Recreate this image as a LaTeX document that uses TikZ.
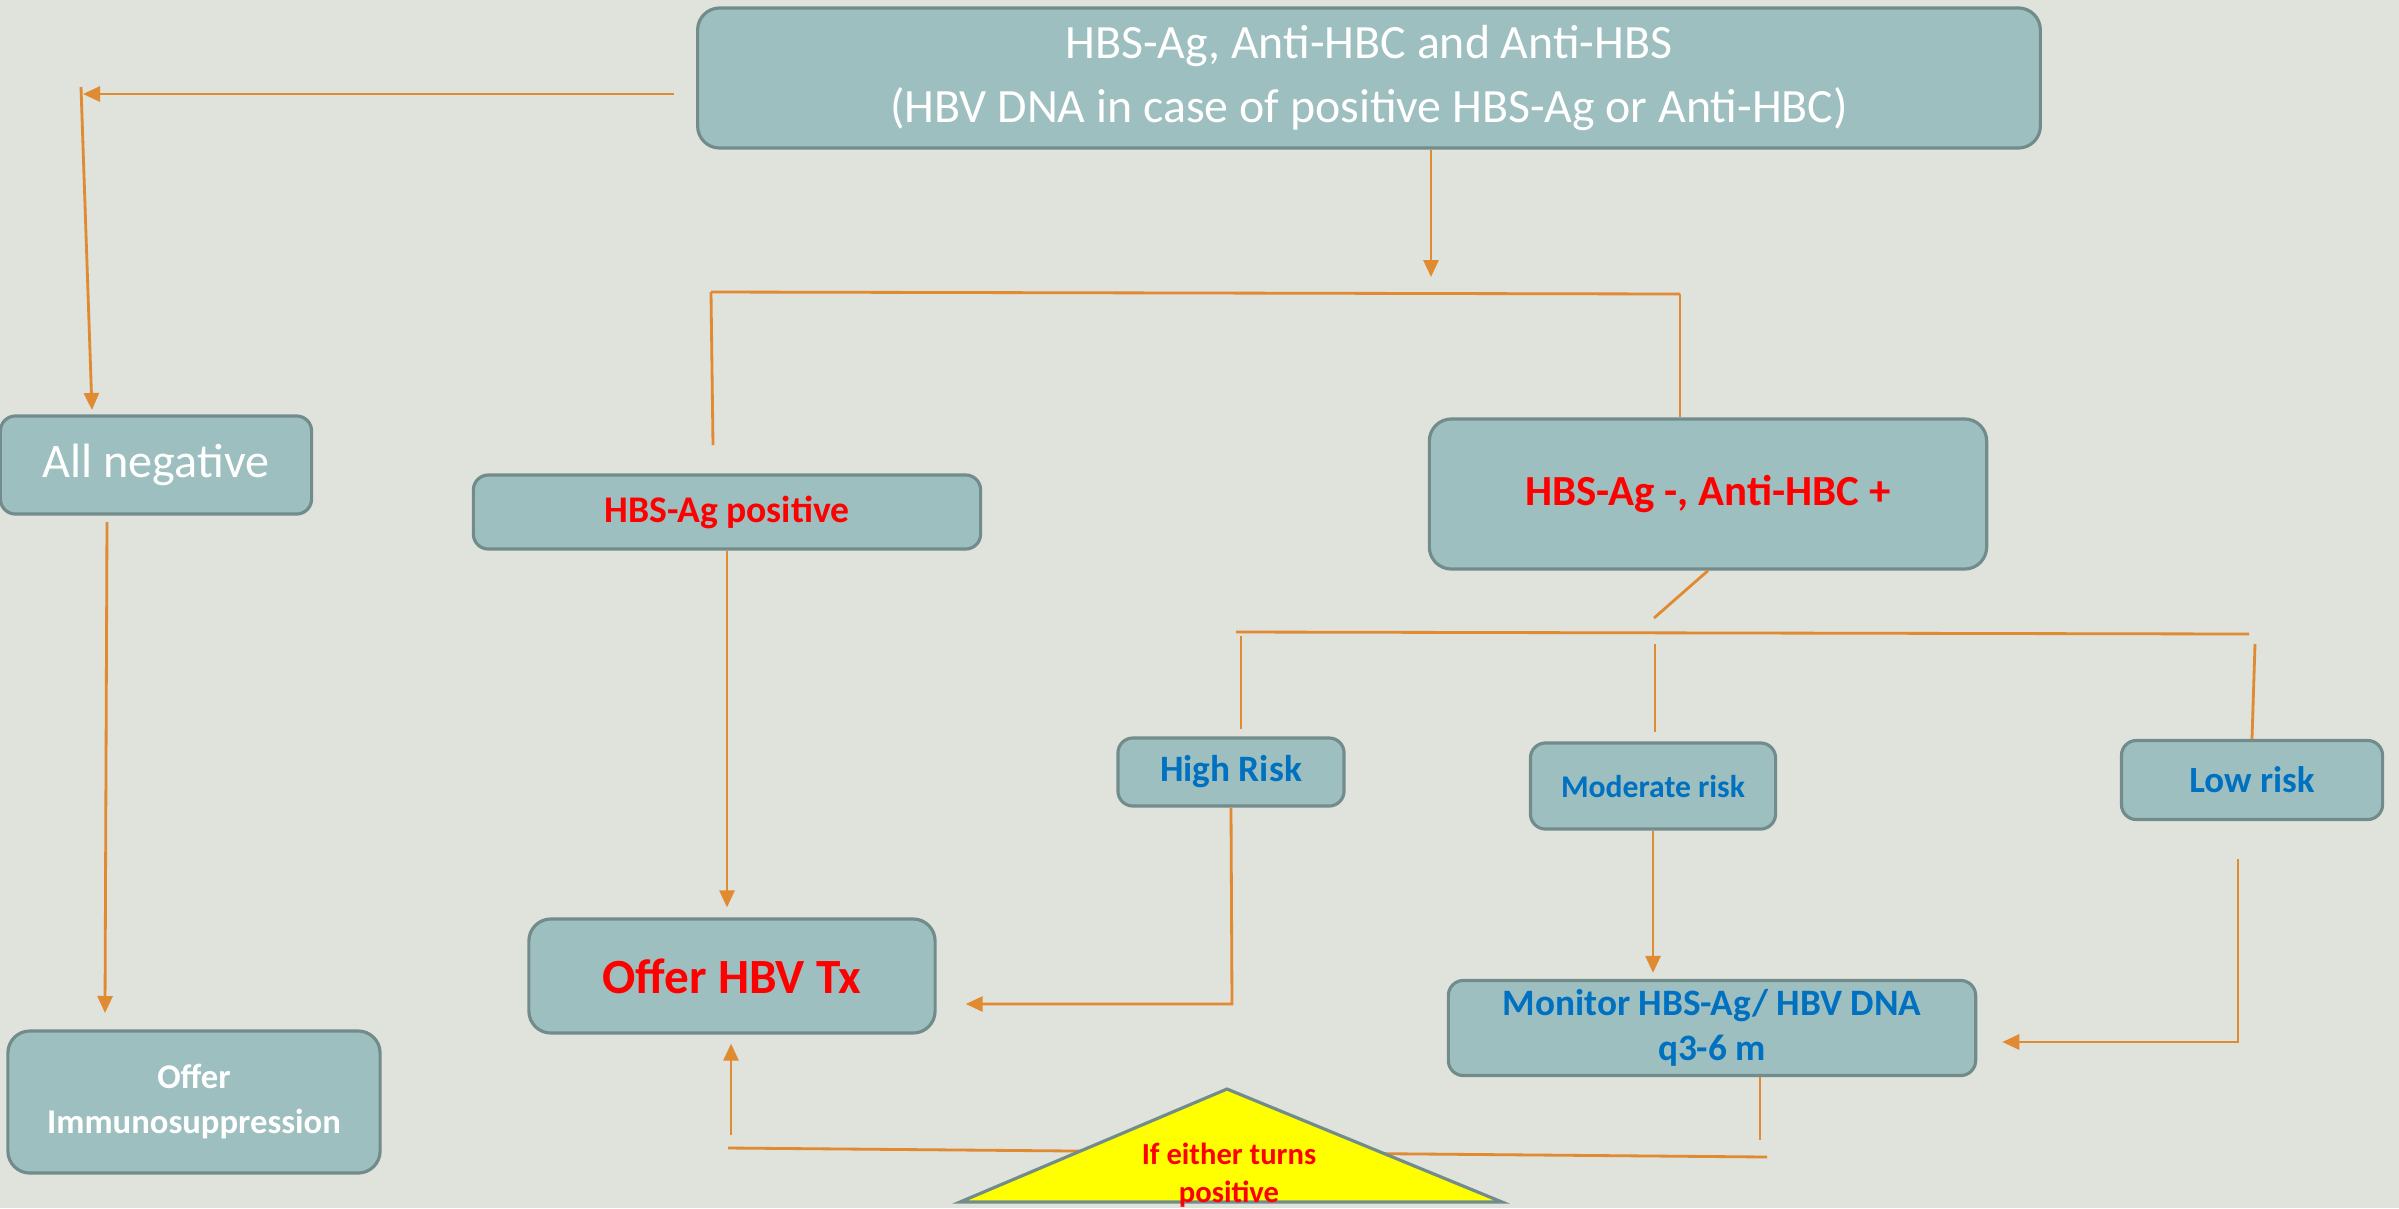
\documentclass[tikz,border=0pt]{standalone}
\usepackage{fontspec}
\setmainfont{Carlito}
\usetikzlibrary{arrows.meta}
\definecolor{bgcol}{HTML}{E0E2DC}
\definecolor{boxfill}{HTML}{9EBFBF}
\definecolor{boxline}{HTML}{728C8C}
\definecolor{linkcol}{HTML}{E08A32}
\definecolor{redtxt}{HTML}{FF0000}
\definecolor{bluetxt}{HTML}{0070C0}
\definecolor{warnfill}{HTML}{FFFF00}
\newcommand{\fsz}[2]{\fontsize{#1}{#2}\selectfont}
\tikzset{
  box/.style={draw=boxline, fill=boxfill, line width=0.9pt, rounded corners=0.15cm, align=center, inner sep=2pt},
  bigbox/.style={box, rounded corners=0.22cm},
  link/.style={draw=linkcol, line width=0.8pt},
  arr/.style={link, -{Triangle[length=0.17cm,width=0.15cm]}}
}

\begin{document}
\begin{tikzpicture}[x=0.01cm,y=-0.01cm]
  \fill [bgcol] (0,0) rectangle (2399,1208);
  \useasboundingbox (0,0) rectangle (2399,1208);

  \node [bigbox, minimum width=13.42cm, minimum height=1.40cm, text=white, font=\fsz{13.6}{18.4}] (tests) at (1369,78) {HBS-Ag, Anti-HBC and Anti-HBS\\(HBV DNA in case of positive HBS-Ag or Anti-HBC)};
  \node [box, minimum width=3.11cm, minimum height=0.98cm, text=white, font=\fsz{13.7}{16}] (allneg) at (156,465) {All negative};
  \node [box, minimum width=5.07cm, minimum height=0.74cm, text=redtxt, font=\bfseries\fsz{10.7}{12}] (hbspos) at (727,512) {HBS-Ag positive};
  \node [bigbox, minimum width=5.57cm, minimum height=1.50cm, text=redtxt, font=\bfseries\fsz{12.2}{14}] (hbcpos) at (1708,494) {HBS-Ag -, Anti-HBC +};
  \node [box, minimum width=2.26cm, minimum height=0.68cm, text=bluetxt, font=\bfseries\fsz{10.6}{12}] (highrisk) at (1231,772) {High Risk};
  \node [box, minimum width=2.45cm, minimum height=0.86cm, text=bluetxt, font=\bfseries\fsz{9}{11}] (modrisk) at (1653,786) {Moderate risk};
  \node [box, minimum width=2.61cm, minimum height=0.79cm, text=bluetxt, font=\bfseries\fsz{10.5}{12}] (lowrisk) at (2252,780) {Low risk};
  \node [bigbox, minimum width=4.06cm, minimum height=1.14cm, text=redtxt, font=\bfseries\fsz{14}{17}] (offertx) at (732,976) {Offer HBV Tx};
  \node [box, minimum width=5.27cm, minimum height=0.95cm, text=bluetxt, font=\bfseries\fsz{10.6}{12.8}] (monitor) at (1712,1028) {Monitor HBS-Ag/ HBV DNA\\q3-6 m};
  \node [bigbox, minimum width=3.72cm, minimum height=1.42cm, text=white, font=\bfseries\fsz{9.85}{12.8}] (immuno) at (194,1102) {Offer\\Immunosuppression};

  \coordinate (negcorner) at (83,94);
  \coordinate (negtop) at (81,87);
  \coordinate (negend) at (92,410);
  \draw [arr, shorten <=0.22cm] (tests.west |- negcorner) -- (negcorner);
  \draw [arr] (negtop) -- (negend);

  \coordinate (split) at (1431,277);
  \coordinate (barleft) at (711,292);
  \coordinate (barright) at (1680,294);
  \coordinate (posin) at (713,445);
  \draw [arr] (tests.south -| split) -- (split);
  \draw [link] (barleft) -- (barright);
  \draw [link] (barleft) -- (posin);
  \draw [link] (barright) -- (hbcpos.north -| barright);

  \coordinate (negdown) at (107,522);
  \coordinate (immin) at (105,1013);
  \draw [arr] (negdown) -- (immin);
  \draw [arr, shorten >=0.1cm] (hbspos.south) -- (hbspos.south |- offertx.north);

  \coordinate (riskhub) at (1654,618);
  \coordinate (riskleft) at (1236,632);
  \coordinate (riskright) at (2249,634);
  \coordinate (hitop) at (1241,636);
  \coordinate (modtop) at (1655,644);
  \coordinate (lowtop) at (2255,644);
  \draw [link] (hbcpos.south) -- (riskhub);
  \draw [link] (riskleft) -- (riskright);
  \draw [link, shorten >=0.07cm] (hitop) -- (hitop |- highrisk.north);
  \draw [link, shorten >=0.09cm] (modtop) -- (modtop |- modrisk.north);
  \draw [link] (lowtop) -- (lowrisk.north);

  \coordinate (hiturn) at (1232,1004);
  \coordinate (lowturn) at (2238,1042);
  \draw [arr, shorten >=0.29cm] (highrisk.south) -- (hiturn) -- (hiturn -| offertx.east);
  \draw [arr, shorten >=0.06cm] (modrisk.south) -- (modrisk.south |- monitor.north);
  \draw [arr, shorten <=0.38cm, shorten >=0.25cm] (lowrisk.south -| lowturn) -- (lowturn) -- (lowturn -| monitor.east);

  \coordinate (loopdown) at (1760,1140);
  \coordinate (loopright) at (1767,1157);
  \coordinate (loopleft) at (728,1148);
  \coordinate (loopup) at (731,1135);
  \draw [link] (monitor.south -| loopdown) -- (loopdown);
  \draw [link] (loopright) -- (loopleft);
  \draw [arr, shorten >=0.09cm] (loopup) -- (loopup |- offertx.south);

  \filldraw [fill=warnfill, draw=boxline, line width=0.9pt] (1227,1089) -- (1502,1202) -- (960,1202) -- cycle;
  \node [text=redtxt, font=\bfseries\fsz{8.7}{10.8}, align=center] (turns) at (1229,1175) {If either turns\\positive};
\end{tikzpicture}
\end{document}
